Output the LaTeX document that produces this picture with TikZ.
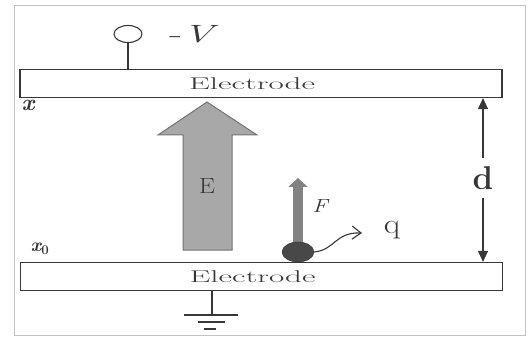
\documentclass[tikz,border=0pt]{standalone}
\usepackage{fontspec}
\usepackage{graphicx}
\usetikzlibrary{arrows.meta,shapes.geometric}

\definecolor{ink}{RGB}{55,55,55}
\definecolor{fieldgray}{RGB}{168,168,168}
\definecolor{fieldedge}{RGB}{115,115,115}
\definecolor{forcegray}{RGB}{130,130,130}
\definecolor{chargegray}{RGB}{72,72,72}
\definecolor{framegray}{RGB}{195,195,195}

% stretch text sideways like the picture does
\newcommand{\wide}[2][1.7]{\scalebox{#1}[1]{#2}}

\tikzset{
  electrode/.style={draw=ink, line width=1.2pt, minimum width=482pt,
    minimum height=28pt, inner sep=0pt, text=ink,
    font=\fontsize{17}{17}\selectfont},
  terminal/.style={draw=ink, line width=1.1pt, ellipse, minimum width=28pt,
    minimum height=17pt, inner sep=0pt},
  wire/.style={draw=ink, line width=1.1pt},
  charge/.style={ellipse, fill=chargegray, draw=black!80, minimum width=32pt,
    minimum height=20pt, inner sep=0pt},
}

\begin{document}
\begin{tikzpicture}[x=1pt, y=-1pt]
\useasboundingbox (0,0) rectangle (530,339);
% Light frame around everything
\draw[framegray, line width=0.8pt] (14,5) rectangle (525,335);
% The two electrodes
\node[electrode] (top) at (261,83.5) {\wide[1.95]{Electrode}\hspace*{18pt}};
\node[electrode] (bot) at (261.5,276.5) {\wide[1.95]{Electrode}\hspace*{18pt}};
% Terminal on the top electrode
\node[terminal] (term) at (128,34) {};
\draw[wire] (term) -- (term |- top.north);
\node[text=ink] (volt) at (194,34) {\wide{\fontsize{25}{25}\selectfont -\textit{V}}};
% Position labels
\node[text=ink] (xlab) at (28,105) {\fontsize{23}{23}\selectfont\bfseries\itshape x};
\node[text=ink] (x0lab) at (40,249) {\fontsize{19}{19}\selectfont\bfseries\itshape x\textsubscript{\upshape 0}};
% Big arrow for the field
\filldraw[fill=fieldgray, draw=fieldedge, line width=1pt]
  (207,102) -- (257,135) -- (232,135) -- (232,250) -- (183,250)
  -- (183,135) -- (158,135) -- cycle;
\node[text=ink] (elab) at (207,186) {\wide[1.15]{\fontsize{22}{22}\selectfont E}};
% Force arrow on the charge
\coordinate (qc) at (298,252);
\coordinate (ftip) at (298,178);
\draw[forcegray, line width=10pt, -{Triangle[length=9pt, width=19pt]}] (qc) -- (ftip);
\node[charge] (q0) at (qc) {};
\node[text=ink] (flab) at (320,206) {\wide[1.25]{\fontsize{19}{19}\selectfont\itshape F}};
% Wavy pointer to the charge label
\node[text=ink] (qlab) at (392,230) {\wide[1.2]{\fontsize{28}{28}\selectfont q}};
\coordinate (qtip) at (362,233);
\draw[ink, line width=1.1pt, -{Straight Barb[length=9pt, width=13pt]}]
  (q0.east) .. controls (335,250) and (335,232) .. (qtip);
% Gap distance d between the plates
\node[text=ink, inner ysep=8pt] (d) at (483,178) {\fontsize{33}{33}\selectfont\bfseries d};
\draw[ink, line width=1.1pt, -{Triangle[length=11pt, width=10pt]}] (d) -- (d |- top.south);
\draw[ink, line width=1.1pt, -{Triangle[length=11pt, width=10pt]}] (d) -- (d |- bot.north);
% Ground under the bottom electrode
\coordinate (gnd) at (212,315);
\draw[wire] (gnd |- bot.south) -- (gnd);
\draw[wire] (184,315) -- (238,315);
\draw[wire] (198,322) -- (225,322);
\draw[wire] (204,329) -- (216,329);
\end{tikzpicture}
\end{document}
